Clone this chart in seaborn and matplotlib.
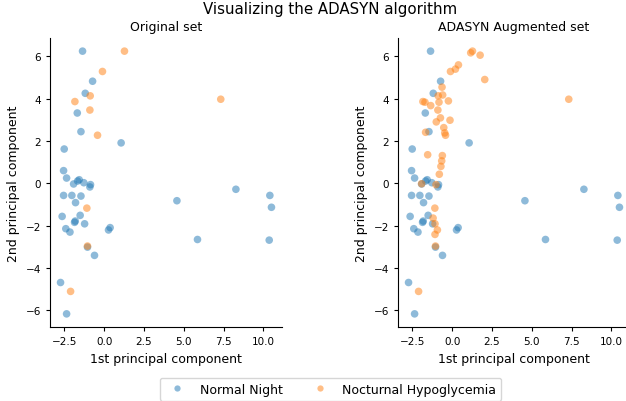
import numpy as np
import pandas as pd
import seaborn as sns
import matplotlib.pyplot as plt

#principal components of the normal nights
normal_pc1 = [-1.35, -0.72, -1.18, -1.68, -1.45, 1.07, -2.50, -2.54, -2.35, -1.56,
              -1.66, -1.27, -1.91, -0.85, -0.89, -2.54, -2.02, -1.45, -1.79, 4.57,
              8.27, 10.40, 10.50, -2.63, -1.50, -1.81, -1.85, -1.22, -2.40, -2.14,
              0.28, 0.38, 5.86, 10.36, -1.04, -0.60, -2.73, -2.35]
normal_pc2 = [6.24, 4.82, 4.25, 3.32, 2.44, 1.91, 1.62, 0.60, 0.25, 0.17,
              0.11, 0.03, -0.03, -0.06, -0.17, -0.57, -0.57, -0.60, -0.91, -0.82,
              -0.28, -0.57, -1.13, -1.56, -1.51, -1.78, -1.84, -1.91, -2.14, -2.30,
              -2.20, -2.09, -2.65, -2.68, -3.01, -3.40, -4.68, -6.16]

#principal components of the hypoglycemic nights
hypo_pc1 = [1.28, -0.10, -0.87, -1.83, -0.89, -0.41, 7.32, -1.08, -1.04, -2.10]
hypo_pc2 = [6.24, 5.28, 4.13, 3.86, 3.46, 2.27, 3.97, -1.17, -2.96, -5.10]

#synthetic samples made by ADASYN
synth_pc1 = [1.17, 1.76, 0.40, 0.21, 2.05, -0.63, -0.59, -1.70, -0.82, -0.23,
             -1.34, -0.73, -0.99, -0.13, -0.52, -0.46, -1.66, -1.53, -0.61, -0.65,
             -0.70, -0.80, -1.91, -1.01, -1.19, -1.07, -0.92, -1.07]
synth_pc2 = [6.16, 6.05, 5.59, 5.39, 4.90, 4.54, 4.17, 3.83, 3.83, 3.89,
             3.67, 3.09, 2.90, 2.98, 2.63, 2.38, 2.41, 1.35, 1.31, 1.06,
             0.80, 0.43, -0.02, -0.06, -1.64, -1.91, -2.20, -2.41]

labels = ["Normal Night", "Nocturnal Hypoglycemia"]

def make_frame(pc1_a, pc2_a, pc1_b, pc2_b):
    df = pd.DataFrame({
        "pc1": list(pc1_a) + list(pc1_b),
        "pc2": list(pc2_a) + list(pc2_b),
        "label": [labels[0]] * len(pc1_a) + [labels[1]] * len(pc1_b),
    })
    return df

original = make_frame(normal_pc1, normal_pc2, hypo_pc1, hypo_pc2)
augmented = make_frame(normal_pc1, normal_pc2, hypo_pc1 + synth_pc1, hypo_pc2 + synth_pc2)

palette = {labels[0]: "tab:blue", labels[1]: "tab:orange"}

plt.rcParams["font.size"] = 9
plt.rcParams["xtick.labelsize"] = 7.5
plt.rcParams["ytick.labelsize"] = 7.5

fig = plt.figure(figsize=(6.26, 4.02), dpi=100)
ax1 = fig.add_axes([50 / 626, 74 / 402, 232 / 626, 289 / 402])
ax2 = fig.add_axes([398 / 626, 74 / 402, 232 / 626, 289 / 402])
for ax, data, title in zip([ax1, ax2], [original, augmented], ["Original set", "ADASYN Augmented set"]):
    sns.scatterplot(data=data, x="pc1", y="pc2", hue="label", palette=palette,
                    alpha=0.5, s=30, edgecolor="none", ax=ax, legend=False)
    ax.set_title(title, fontsize=9)
    ax.set_xlabel("1st principal component")
    ax.set_ylabel("2nd principal component")
    ax.set_xticks([-2.5, 0.0, 2.5, 5.0, 7.5, 10.0])
    ax.tick_params(length=3)
    sns.despine(ax=ax)

handles = [plt.Line2D([], [], marker="o", linestyle="", color=palette[l], alpha=0.5,
                      markersize=4.5, markeredgewidth=0) for l in labels]
fig.legend(handles, labels, loc="lower center", ncol=2, bbox_to_anchor=(0.528, -0.015))
fig.suptitle("Visualizing the ADASYN algorithm", x=0.528, y=0.995, fontsize=10.8)
plt.savefig("out.png")
